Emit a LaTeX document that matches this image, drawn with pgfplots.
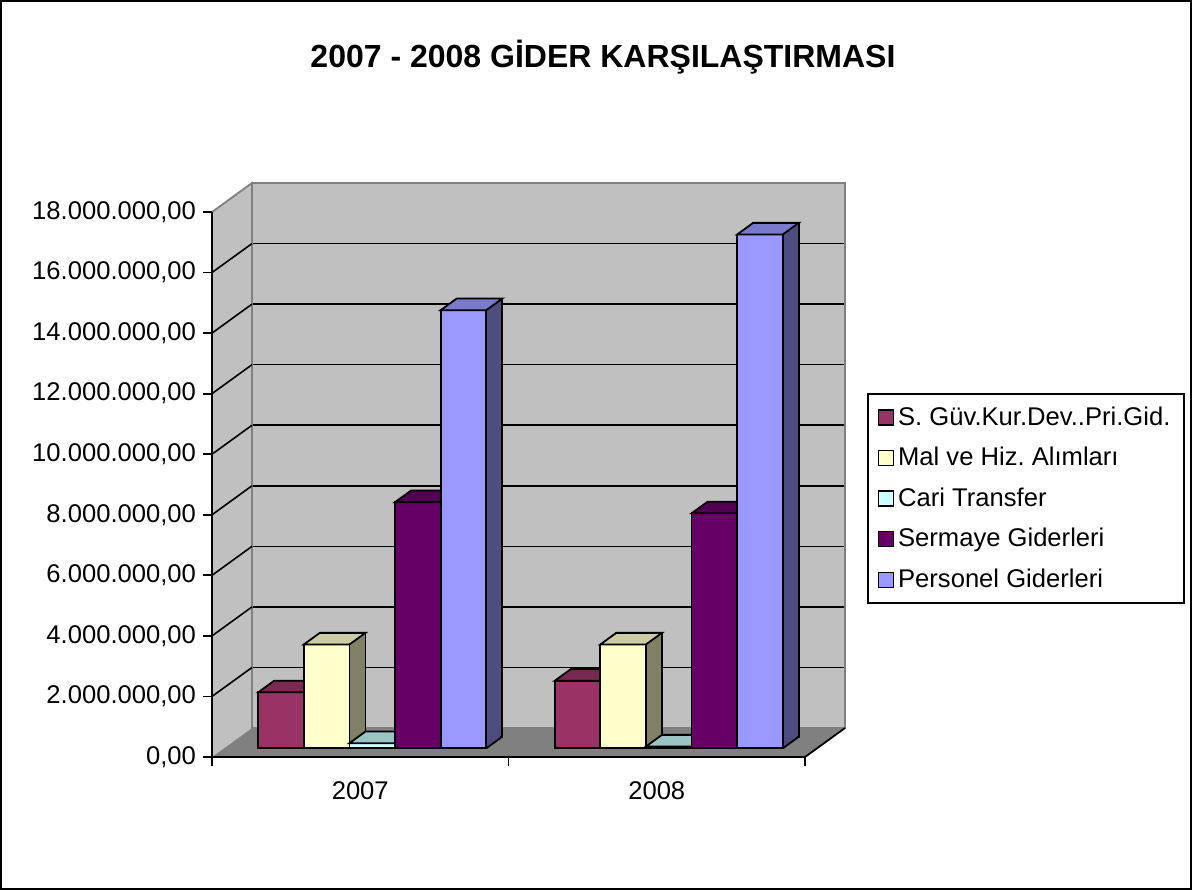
\documentclass[border=0pt]{standalone}
\usepackage{fontspec}
\setmainfont{Liberation Sans}
\usepackage{pgfplots}
\usepackage{pgfplotstable}
\pgfplotsset{compat=1.18}
\frenchspacing

\definecolor{wall}{HTML}{C0C0C0}
\definecolor{floorc}{HTML}{808080}
\definecolor{edge}{HTML}{808080}
\definecolor{fA}{HTML}{993366}\definecolor{tA}{HTML}{7A2952}\definecolor{sA}{HTML}{4D1A33}
\definecolor{fB}{HTML}{FFFFCC}\definecolor{tB}{HTML}{CCCCA3}\definecolor{sB}{HTML}{808066}
\definecolor{fC}{HTML}{CCFFFF}\definecolor{tC}{HTML}{9CC4C4}\definecolor{sC}{HTML}{668080}
\definecolor{fD}{HTML}{660066}\definecolor{tD}{HTML}{520052}\definecolor{sD}{HTML}{330033}
\definecolor{fE}{HTML}{9999FF}\definecolor{tE}{HTML}{7A7ACC}\definecolor{sE}{HTML}{4D4D80}

\pgfdeclareplotmark{topface}{%
 \pgfpathmoveto{\pgfqpoint{-11.4pt}{0pt}}%
 \pgfpathlineto{\pgfqpoint{11.4pt}{0pt}}%
 \pgfpathlineto{\pgfqpoint{19.4pt}{5.8pt}}%
 \pgfpathlineto{\pgfqpoint{-3.4pt}{5.8pt}}%
 \pgfpathclose\pgfusepathqfillstroke}
\pgfdeclareplotmark{sidebottom}{%
 \pgfpathmoveto{\pgfqpoint{11.4pt}{0pt}}%
 \pgfpathlineto{\pgfqpoint{19.4pt}{5.8pt}}%
 \pgfusepathqstroke}

% values (TL)
\pgfplotstableread{
x sguv mal cari sermaye personel
0 1850000 3430000 170000 8130000 14470000
1 2230000 3430000 60000 7760000 16970000
}\data

\pgfplotsset{baraxis/.style={at={(106pt,66.5pt)}, anchor=south west, scale only axis,
  width=296.5pt, height=272.5pt, xmin=-0.5, xmax=1.5, ymin=0, ymax=18000000,
  hide axis, clip=false}}

% #1 column, #2 bar shift (pt, number), #3 front, #4 top, #5 side
\newcommand{\threedbar}[5]{%
 \addplot[ybar, bar width=22.8pt, bar shift=#2pt, fill=#5, draw=black, line width=0.9pt,
   xshift=14pt, yshift=10.15pt, forget plot] table[x=x,y=#1]{\data};
 \pgfplotsinvokeforeach{7,6,5,4,3,2,1}{%
  \addplot[ybar, bar width=22.8pt, bar shift=#2pt, fill=#5, draw=none,
    xshift={(6+##1)*1pt}, yshift={(4.35+##1*0.725)*1pt}, forget plot] table[x=x,y=#1]{\data};
 }
 \addplot[only marks, mark=sidebottom, mark options={draw=black, line width=0.9pt},
   xshift={(6+#2)*1pt}, yshift=4.35pt, forget plot] table[x=x, y expr=0]{\data};
 \addplot[only marks, mark=topface, mark options={fill=#4, draw=black, line width=0.9pt},
   xshift={(6+#2)*1pt}, yshift=4.35pt, forget plot] table[x=x,y=#1]{\data};
 \addplot[ybar, bar width=22.8pt, bar shift=#2pt, fill=#3, draw=black, line width=0.9pt,
   xshift=6pt, yshift=4.35pt, forget plot] table[x=x,y=#1]{\data};
}

\begin{document}
\begin{tikzpicture}
\draw[line width=1pt] (0.5pt,0.5pt) rectangle (595.5pt,444.5pt);
\node[font=\bfseries\fontsize{16}{19}\selectfont] at (301.5pt,416.5pt) {2007 - 2008 GİDER KARŞILAŞTIRMASI};

% back wall, side wall, floor
\begin{axis}[at={(126pt,81pt)}, anchor=south west, scale only axis,
  width=296.5pt, height=272.5pt,
  xmin=-0.5, xmax=1.5, ymin=0, ymax=18000000,
  axis background/.style={fill=wall},
  axis line style={edge, line width=0.9pt},
  xtick=\empty, ytick={2000000,4000000,6000000,8000000,10000000,12000000,14000000,16000000},
  yticklabels={}, major tick length=0pt, scaled y ticks=false,
  ymajorgrids, grid style={black, line width=0.8pt}, clip=false]
 \fill[wall] (axis cs:-0.5,0) -- (axis cs:-0.5,18000000) -- ++(-20pt,-14.5pt)
   -- ([shift={(-20pt,-14.5pt)}]axis cs:-0.5,0) -- cycle;
 \draw[edge, line width=0.9pt] (axis cs:-0.5,0) -- (axis cs:-0.5,18000000) -- ++(-20pt,-14.5pt);
 \pgfplotsinvokeforeach{2000000,4000000,6000000,8000000,10000000,12000000,14000000,16000000}{%
   \draw[black, line width=0.8pt] (axis cs:-0.5,#1) -- ++(-20pt,-14.5pt);}
 \fill[floorc] (axis cs:-0.5,0) -- (axis cs:1.5,0) -- ++(-20pt,-14.5pt)
   -- ([shift={(-20pt,-14.5pt)}]axis cs:-0.5,0) -- cycle;
 \draw[black, line width=0.9pt] (axis cs:1.5,0) -- ++(-20pt,-14.5pt);
\end{axis}

% one axis per series, so that each bar is drawn over the one on its left
\begin{axis}[baraxis]
 \threedbar{sguv}{-45.6}{fA}{tA}{sA}
\end{axis}
\begin{axis}[baraxis]
 \threedbar{mal}{-22.8}{fB}{tB}{sB}
\end{axis}
\begin{axis}[baraxis]
 \threedbar{cari}{0}{fC}{tC}{sC}
\end{axis}
\begin{axis}[baraxis]
 \threedbar{sermaye}{22.8}{fD}{tD}{sD}
\end{axis}
\begin{axis}[baraxis]
 \threedbar{personel}{45.6}{fE}{tE}{sE}
\end{axis}

% front axis: ticks, labels, legend
\begin{axis}[at={(106pt,66.5pt)}, anchor=south west, scale only axis,
  width=296.5pt, height=272.5pt,
  xmin=-0.5, xmax=1.5, ymin=0, ymax=18000000,
  axis x line*=bottom, axis y line*=left,
  axis line style={black, line width=0.9pt},
  tick style={black, line width=0.9pt}, tick align=outside, major tick length=4.5pt,
  xtick={-0.5,0.5,1.5}, xticklabels={},
  extra x ticks={0,1}, extra x tick labels={2007,2008},
  extra x tick style={major tick length=0pt, tick label style={yshift=-9pt}},
  ytick={0,2000000,4000000,6000000,8000000,10000000,12000000,14000000,16000000,18000000},
  yticklabels={{0,00},{2.000.000,00},{4.000.000,00},{6.000.000,00},{8.000.000,00},{10.000.000,00},{12.000.000,00},{14.000.000,00},{16.000.000,00},{18.000.000,00}},
  scaled y ticks=false,
  ticklabel style={font=\fontsize{12.8}{15}\selectfont},
  clip=false,
  legend image code/.code={\draw[#1, line width=0.6pt] (0pt,-3.75pt) rectangle (7.5pt,3.75pt);},
  legend style={at={(1.1046,0.6684)}, anchor=north west, draw=black, line width=0.9pt,
    font=\fontsize{12.8}{15}\selectfont, row sep=5.5pt, inner xsep=5pt, inner ysep=4.5pt,
    cells={anchor=west}},
]
 \addlegendimage{fill=fA, draw=black}\addlegendentry{S. Güv.Kur.Dev..Pri.Gid.}
 \addlegendimage{fill=fB, draw=black}\addlegendentry{Mal ve Hiz. Alımları}
 \addlegendimage{fill=fC, draw=black}\addlegendentry{Cari Transfer}
 \addlegendimage{fill=fD, draw=black}\addlegendentry{Sermaye Giderleri}
 \addlegendimage{fill=fE, draw=black}\addlegendentry{Personel Giderleri}
\end{axis}
\end{tikzpicture}
\end{document}
